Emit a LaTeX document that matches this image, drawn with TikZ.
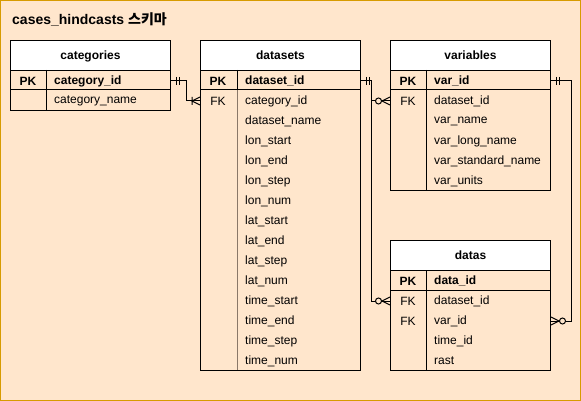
\documentclass[tikz,border=0pt]{standalone}
\usepackage{fontspec}
\setmainfont{Liberation Sans}
\newfontfamily\kofont{Noto Sans CJK KR}
\usetikzlibrary{calc}

\definecolor{SheetFill}{HTML}{FFE6CC}
\definecolor{SheetLine}{HTML}{D79B00}
\definecolor{DivBrown}{HTML}{8A7868}

\tikzset{
	pics/MandOne/.style={code={\draw[line width=1pt] (5,-4) -- (5,4) (8,-4) -- (8,4);}},			%two bars: exactly one
	pics/OneMany/.style={code={\draw[line width=1pt] (-8,-4) -- (-8,4) (0,-4) -- (-8,0) -- (0,4);}},	%bar + crow foot
	pics/ZeroMany/.style={code={\draw[line width=1pt] (0,-4) -- (-8,0) -- (0,4);
		\draw[line width=1pt, fill=SheetFill] (-11.5,0) circle (3);}}					%circle + crow foot
}

\begin{document}
\fontsize{12}{14}\selectfont
\begin{tikzpicture}
	[x=1pt, y=-1pt,
	 TableBox/.style={draw, line width=1pt, minimum width=160pt, inner sep=0pt, anchor=north west},	%whole entity
	 TableHead/.style={TableBox, fill=white, minimum height=30pt, font=\bfseries, text depth=-1pt},	%entity title
	 KeyText/.style={inner sep=0pt, minimum height=20pt, yshift=-1pt},					%PK / FK
	 FieldText/.style={inner sep=0pt, minimum height=20pt, anchor=west, yshift=-1pt},			%column name
	 Rel/.style={line width=1pt}
	]

	\useasboundingbox (0,0) rectangle (581,401);
	\draw[fill=SheetFill, draw=SheetLine, line width=1.2pt] (0.8,0.8) rectangle (580.2,400.2);	%sheet

	\node[anchor=west, inner sep=0pt, font=\bfseries\fontsize{14}{16}\selectfont] (title) at (12,19) {cases\_hindcasts {\kofont 스키마}};

	%categories
	\node[TableBox, minimum height=70pt] (categories) at (10,40) {};
	\node[TableHead] (categories-head) at (10,40) {categories};
	\draw[line width=1pt] (10,90) -- (170,90) (46,70) -- (46,110);
	\node[KeyText, font=\bfseries] (cat-pk) at (28,80) {PK};
	\node[FieldText, font=\bfseries] (cat-id) at (54,80) {category\_id};
	\node[FieldText] (cat-name) at (54,100) {category\_name};

	%datasets
	\node[TableBox, minimum height=330pt] (datasets) at (200,40) {};
	\node[TableHead] (datasets-head) at (200,40) {datasets};
	\draw[line width=1pt] (200,90) -- (360,90) (237,70) -- (237,90);
	\draw[line width=1pt, DivBrown] (237,90) -- (237,370);
	\node[KeyText, font=\bfseries] (ds-pk) at (218,80) {PK};
	\node[FieldText, font=\bfseries] (ds-id) at (245,80) {dataset\_id};
	\node[KeyText] (ds-fk) at (218,100) {FK};
	\node[FieldText] (ds-cat) at (245,100) {category\_id};
	\foreach \col [count=\i] in {dataset\_name, lon\_start, lon\_end, lon\_step, lon\_num, lat\_start, lat\_end,
		lat\_step, lat\_num, time\_start, time\_end, time\_step, time\_num}
		\node[FieldText] (ds-col\i) at (245,100+20*\i) {\col};

	%variables
	\node[TableBox, minimum height=150pt] (variables) at (390,40) {};
	\node[TableHead] (variables-head) at (390,40) {variables};
	\draw[line width=1pt] (390,90) -- (550,90) (426,70) -- (426,190);
	\node[KeyText, font=\bfseries] (var-pk) at (408,80) {PK};
	\node[FieldText, font=\bfseries] (var-id) at (434,80) {var\_id};
	\node[KeyText] (var-fk) at (408,100) {FK};
	\node[FieldText] (var-ds) at (434,100) {dataset\_id};
	\foreach \col [count=\i] in {var\_name, var\_long\_name, var\_standard\_name, var\_units}
		\node[FieldText] (var-col\i) at (434,100+20*\i) {\col};

	%datas
	\node[TableBox, minimum height=130pt] (datas) at (390,240) {};
	\node[TableHead] (datas-head) at (390,240) {datas};
	\draw[line width=1pt] (390,290) -- (550,290) (426,270) -- (426,370);
	\node[KeyText, font=\bfseries] (dt-pk) at (408,280) {PK};
	\node[FieldText, font=\bfseries] (dt-id) at (434,280) {data\_id};
	\node[KeyText] (dt-fk1) at (408,300) {FK};
	\node[FieldText] (dt-ds) at (434,300) {dataset\_id};
	\node[KeyText] (dt-fk2) at (408,320) {FK};
	\node[FieldText] (dt-var) at (434,320) {var\_id};
	\node[FieldText] (dt-time) at (434,340) {time\_id};
	\node[FieldText] (dt-rast) at (434,360) {rast};

	%relations
	\draw[Rel] (categories.east |- cat-id) -- ++(15,0) |- (datasets.west |- ds-cat);
	\draw[Rel] (datasets.east |- ds-id) -- ++(10,0) |- (variables.west |- var-ds);
	\draw[Rel] (datasets.east |- ds-id) -- ++(10,0) |- (datas.west |- dt-ds);
	\draw[Rel] (variables.east |- var-id) -- ++(20,0) |- (datas.east |- dt-var);

	\pic at (categories.east |- cat-id) {MandOne};
	\pic at (datasets.west |- ds-cat) {OneMany};
	\pic at (datasets.east |- ds-id) {MandOne};
	\pic at (variables.west |- var-ds) {ZeroMany};
	\pic at (datas.west |- dt-ds) {ZeroMany};
	\pic at (variables.east |- var-id) {MandOne};
	\pic[xscale=-1] at (datas.east |- dt-var) {ZeroMany};

\end{tikzpicture}
\end{document}
